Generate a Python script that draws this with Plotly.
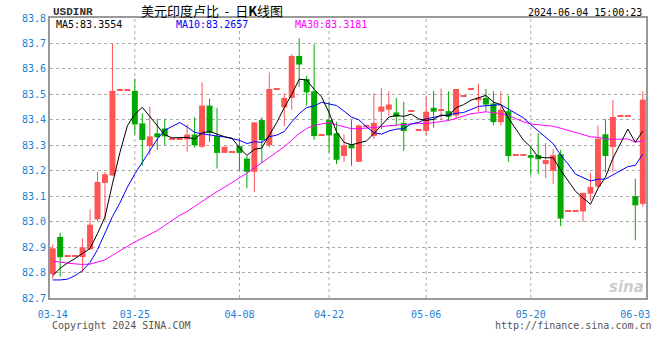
import plotly.graph_objects as go
import pandas as pd

# ---------------- data ----------------
start_day, end_day = "2024-03-14", "2024-06-04"
missing_days = ["2024-04-14", "2024-04-21", "2024-04-28"]
dates = [d.strftime("%m-%d") for d in pd.date_range(start_day, end_day)
         if d.strftime("%Y-%m-%d") not in missing_days]

open_ = [82.794, 82.940, 82.862, 82.862, 82.861, 82.892, 83.009, 83.152, 83.181, 83.514,
         83.514, 83.514, 83.386, 83.297, 83.347, 83.366, 83.323, 83.323, 83.323, 83.342,
         83.294, 83.456, 83.336, 83.270, 83.270, 83.297, 83.248, 83.196, 83.399, 83.300,
         83.521, 83.449, 83.486, 83.651, 83.560, 83.512, 83.339, 83.399, 83.347, 83.258,
         83.304, 83.235, 83.375, 83.336, 83.432, 83.440, 83.429, 83.388, 83.432, 83.357,
         83.356, 83.447, 83.437, 83.434, 83.417, 83.490, 83.521, 83.477, 83.486, 83.464,
         83.391, 83.434, 83.258, 83.258, 83.261, 83.261, 83.226, 83.200, 83.265, 83.040,
         83.040, 83.040, 83.110, 83.138, 83.343, 83.293, 83.412, 83.412, 83.100, 83.070]
high = [82.910, 82.957, 82.862, 82.862, 82.934, 83.048, 83.196, 83.196, 83.700, 83.514,
        83.514, 83.561, 83.425, 83.451, 83.404, 83.404, 83.323, 83.323, 83.382, 83.410,
        83.547, 83.483, 83.447, 83.294, 83.270, 83.330, 83.258, 83.390, 83.410, 83.586,
        83.521, 83.505, 83.658, 83.721, 83.573, 83.697, 83.339, 83.473, 83.391, 83.343,
        83.399, 83.382, 83.375, 83.505, 83.525, 83.512, 83.486, 83.471, 83.432, 83.357,
        83.495, 83.514, 83.523, 83.512, 83.521, 83.490, 83.521, 83.542, 83.521, 83.512,
        83.512, 83.495, 83.258, 83.258, 83.288, 83.348, 83.309, 83.284, 83.282, 83.040,
        83.040, 83.113, 83.191, 83.378, 83.403, 83.478, 83.412, 83.412, 83.168, 83.512]
low = [82.775, 82.784, 82.862, 82.862, 82.801, 82.890, 83.000, 83.005, 83.181, 83.514,
       83.514, 83.343, 83.220, 83.262, 83.282, 83.300, 83.323, 83.323, 83.275, 83.290,
       83.290, 83.313, 83.209, 83.270, 83.270, 83.200, 83.131, 83.116, 83.230, 83.291,
       83.521, 83.375, 83.440, 83.529, 83.456, 83.321, 83.339, 83.271, 83.226, 83.235,
       83.219, 83.235, 83.375, 83.323, 83.362, 83.417, 83.375, 83.278, 83.432, 83.357,
       83.339, 83.369, 83.400, 83.395, 83.400, 83.490, 83.521, 83.432, 83.434, 83.378,
       83.378, 83.235, 83.258, 83.258, 83.184, 83.187, 83.171, 83.148, 82.982, 83.040,
       83.040, 82.999, 83.083, 83.132, 83.194, 83.194, 83.412, 83.412, 82.927, 83.060]
close = [82.895, 82.860, 82.862, 82.862, 82.899, 82.988, 83.156, 83.186, 83.514, 83.514,
         83.514, 83.382, 83.321, 83.335, 83.332, 83.335, 83.323, 83.323, 83.342, 83.300,
         83.456, 83.349, 83.270, 83.294, 83.270, 83.270, 83.196, 83.390, 83.320, 83.521,
         83.521, 83.486, 83.651, 83.617, 83.508, 83.336, 83.339, 83.339, 83.243, 83.300,
         83.288, 83.378, 83.375, 83.388, 83.452, 83.460, 83.412, 83.356, 83.432, 83.357,
         83.432, 83.432, 83.442, 83.412, 83.521, 83.490, 83.521, 83.487, 83.460, 83.391,
         83.440, 83.258, 83.258, 83.258, 83.251, 83.245, 83.242, 83.261, 83.012, 83.040,
         83.040, 83.113, 83.136, 83.326, 83.258, 83.411, 83.412, 83.412, 83.064, 83.479]

# moving-average values at the left edge (they depend on days before the window)
ma5_head = [82.788, 82.817, 82.838, 82.855]
ma10_head = [82.771, 82.771, 82.774, 82.788, 82.808, 82.840, 82.890, 82.955, 83.020]
ma30_head = [82.845, 82.840, 82.837, 82.834, 82.832, 82.833, 82.840, 82.850, 82.868, 82.885,
             82.905, 82.920, 82.935, 82.950, 82.965, 82.985, 83.005, 83.025, 83.040, 83.060,
             83.080, 83.100, 83.118, 83.135, 83.155, 83.172, 83.190, 83.210, 83.232]

tick_labels = ["03-14", "03-25", "04-08", "04-22", "05-06", "05-20", "06-03"]
grid_labels = ["03-25", "04-08", "04-22", "05-06", "05-20"]
legend_texts = ["MA5:83.3554", "MA10:83.2657", "MA30:83.3181"]
legend_colors = ["#000000", "#0000ff", "#ff00ff"]

# ---------------- derived ----------------
x = list(range(len(dates)))
s = pd.Series(close)
def ma(n, head):
    r = s.rolling(n).mean().tolist()
    return head + r[len(head):]
ma5 = ma(5, ma5_head)
ma10 = ma(10, ma10_head)
ma30 = ma(30, ma30_head)

UP, DOWN = "#ff5555", "#00a800"
MINH = 0.004

fig = go.Figure()

# wicks
for is_up, col in [(True, UP), (False, DOWN)]:
    wx, wy = [], []
    for i in x:
        if (close[i] >= open_[i]) == is_up and high[i] > low[i]:
            wx += [i, i, None]
            wy += [low[i], high[i], None]
    fig.add_trace(go.Scatter(x=wx, y=wy, mode="lines", line=dict(color=col, width=1),
                             hoverinfo="skip", showlegend=False))

# bodies
for is_up, col in [(True, UP), (False, DOWN)]:
    bx, bb, bh = [], [], []
    for i in x:
        if (close[i] >= open_[i]) == is_up:
            lo_, hi_ = min(open_[i], close[i]), max(open_[i], close[i])
            bx.append(i)
            bb.append(lo_)
            bh.append(max(hi_ - lo_, MINH))
    fig.add_trace(go.Bar(x=bx, y=bh, base=bb, width=0.8, marker=dict(color=col, line=dict(width=0)),
                         showlegend=False, hoverinfo="skip"))

for vals, col in [(ma30, "#ff00ff"), (ma10, "#0000ff"), (ma5, "#000000")]:
    fig.add_trace(go.Scatter(x=x, y=vals, mode="lines", line=dict(color=col, width=1),
                             showlegend=False, hoverinfo="skip"))

# vertical dotted grid lines at date ticks
for lab in grid_labels:
    xi = dates.index(lab)
    fig.add_shape(type="line", xref="x", yref="paper", x0=xi, x1=xi, y0=0, y1=1,
                  line=dict(color="#aaaaaa", width=1, dash="dot"), layer="below")

mono = "DejaVu Sans Mono"
BLUE = "#1a7fd4"

fig.update_layout(
    width=660, height=360, margin=dict(l=50, r=10, t=18, b=62),
    paper_bgcolor="white", plot_bgcolor="white", barmode="overlay",
    font=dict(family=mono, size=10, color="#000"),
    xaxis=dict(range=[-0.36, 79.43], tickvals=[dates.index(t) for t in tick_labels],
               ticktext=tick_labels, showgrid=False, zeroline=False,
               showline=True, linecolor="#999999", linewidth=2, mirror=True,
               tickfont=dict(family=mono, size=10, color=BLUE), ticks="", ticklabelstandoff=6),
    yaxis=dict(range=[82.7, 83.8], dtick=0.1, tick0=82.7, tickformat=".1f",
               showgrid=True, gridcolor="#aaaaaa", griddash="dot", gridwidth=1, zeroline=False,
               showline=True, linecolor="#999999", linewidth=2, mirror=True,
               tickfont=dict(family=mono, size=10, color=BLUE), ticks=""),
)

def px_x(p):
    return (p - 50) / 600.0
def px_y(p):
    return (298 - p) / 280.0

ann = []
ann.append(dict(text="<b>USDINR</b>", x=px_x(51), y=px_y(12), xanchor="left", yanchor="middle",
                font=dict(family="Liberation Mono", size=11, color="#333333")))
ann.append(dict(text="美元印度卢比 &nbsp;-&nbsp; 日<b>K</b>线图", x=px_x(213), y=px_y(10),
                xanchor="center", yanchor="middle",
                font=dict(family="Noto Sans CJK SC", size=13, color="#000000")))
ann.append(dict(text="2024-06-04 15:00:23", x=px_x(648), y=px_y(12), xanchor="right", yanchor="middle",
                font=dict(family=mono, size=10, color="#000000")))
for t, c, px in zip(legend_texts, legend_colors, [54, 175, 295]):
    ann.append(dict(text=t, x=px_x(px), y=px_y(24), xanchor="left", yanchor="middle",
                    font=dict(family=mono, size=10, color=c)))
ann.append(dict(text="Copyright 2024 SINA.COM", x=px_x(50), y=px_y(325), xanchor="left", yanchor="middle",
                font=dict(family=mono, size=10, color="#555555")))
ann.append(dict(text="http://finance.sina.com.cn", x=px_x(658), y=px_y(325), xanchor="right", yanchor="middle",
                font=dict(family=mono, size=10, color="#555555")))
ann.append(dict(text="<b><i>sina</i></b>", x=px_x(630), y=px_y(287), xanchor="center", yanchor="middle",
                font=dict(family="DejaVu Sans", size=15, color="#cccccc")))
for a in ann:
    a.update(xref="paper", yref="paper", showarrow=False)
fig.update_layout(annotations=ann)

fig.write_html("out.html")
